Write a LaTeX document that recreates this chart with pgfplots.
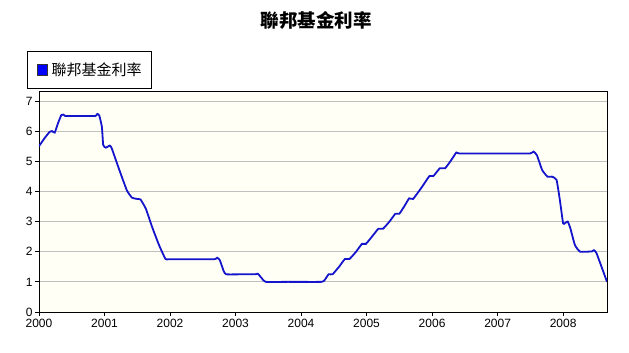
\documentclass[border=0pt]{standalone}
\usepackage{pgfplots}
\pgfplotsset{compat=1.18}
\usepackage{fontspec}
\setmainfont{Liberation Sans}
\newfontfamily\cjk{Noto Sans CJK TC}
\definecolor{linecol}{RGB}{20,20,205}
\definecolor{bgcol}{RGB}{255,255,245}
\definecolor{gridcol}{RGB}{192,192,192}
\pgfplotstableread{
x y
2000.00 5.50
2000.08 5.75
2000.16 5.97
2000.20 6.00
2000.24 5.95
2000.29 6.26
2000.34 6.53
2000.37 6.55
2000.40 6.50
2000.60 6.50
2000.86 6.50
2000.89 6.57
2000.92 6.52
2000.96 6.14
2000.98 5.54
2001.02 5.45
2001.08 5.52
2001.11 5.43
2001.22 4.75
2001.34 4.04
2001.42 3.79
2001.50 3.75
2001.55 3.73
2001.63 3.43
2001.73 2.80
2001.83 2.23
2001.93 1.76
2001.98 1.75
2002.30 1.75
2002.68 1.75
2002.72 1.80
2002.76 1.72
2002.82 1.35
2002.86 1.25
2003.10 1.25
2003.30 1.25
2003.34 1.27
2003.40 1.12
2003.46 1.00
2003.80 1.00
2004.31 1.00
2004.36 1.06
2004.42 1.25
2004.48 1.25
2004.58 1.50
2004.67 1.76
2004.74 1.76
2004.84 2.00
2004.93 2.26
2004.99 2.26
2005.09 2.52
2005.18 2.76
2005.25 2.76
2005.35 3.00
2005.44 3.26
2005.50 3.26
2005.58 3.52
2005.65 3.77
2005.71 3.75
2005.84 4.13
2005.96 4.51
2006.02 4.51
2006.12 4.77
2006.20 4.77
2006.29 5.03
2006.37 5.29
2006.41 5.26
2006.80 5.26
2007.20 5.26
2007.50 5.26
2007.55 5.32
2007.60 5.20
2007.68 4.71
2007.76 4.49
2007.83 4.49
2007.90 4.38
2007.95 3.72
2008.00 2.94
2008.03 2.95
2008.07 3.00
2008.11 2.78
2008.18 2.22
2008.26 2.00
2008.44 2.01
2008.47 2.05
2008.51 1.95
2008.67 1.00
}\ffr
\begin{document}
\begin{tikzpicture}[x=1pt,y=1pt]
\useasboundingbox (0,0) rectangle (629,353);
\node[font=\cjk\bfseries\fontsize{18.5}{21}\selectfont] at (316,333) {聯邦基金利率};
\begin{axis}[
  at={(39pt,41pt)}, anchor=south west,
  scale only axis, width=568pt, height=221pt,
  xmin=2000, xmax=2008.67, ymin=0, ymax=7.33,
  xtick={2000,2001,...,2008}, ytick={0,1,...,7},
  /pgf/number format/1000 sep={},
  /pgf/number format/assume math mode=true,
  xticklabel style={font=\fontsize{12}{14}\selectfont, text height=8.6pt, text depth=0pt, inner ysep=0pt, yshift=-3pt},
  yticklabel style={font=\fontsize{12}{14}\selectfont, text height=8.6pt, text depth=0pt, inner ysep=0pt, xshift=1pt},
  tick align=outside, major tick length=4pt,
  xtick pos=bottom, ytick pos=left,
  ymajorgrids, grid style={gridcol, line width=0.8pt},
  axis background/.style={fill=bgcol},
  axis line style={black, line width=0.8pt},
  tick style={black, line width=0.8pt},
  legend style={at={(-0.0211,1.183)}, anchor=north west, draw=black, line width=0.7pt,
    font=\cjk\fontsize{15}{17}\selectfont, inner xsep=8pt, inner ysep=9.5pt, fill=white},
  legend image code/.code={\draw[fill=blue, draw=black!80, line width=0.5pt] (1pt,-5.5pt) rectangle (11pt,5.5pt); \path (0pt,0pt) (12.5pt,0pt);},
]
\addplot[linecol, line width=1.8pt, smooth, tension=0.25] table[x=x,y=y] {\ffr};
\addlegendentry{聯邦基金利率}
\end{axis}
\end{tikzpicture}
\end{document}
